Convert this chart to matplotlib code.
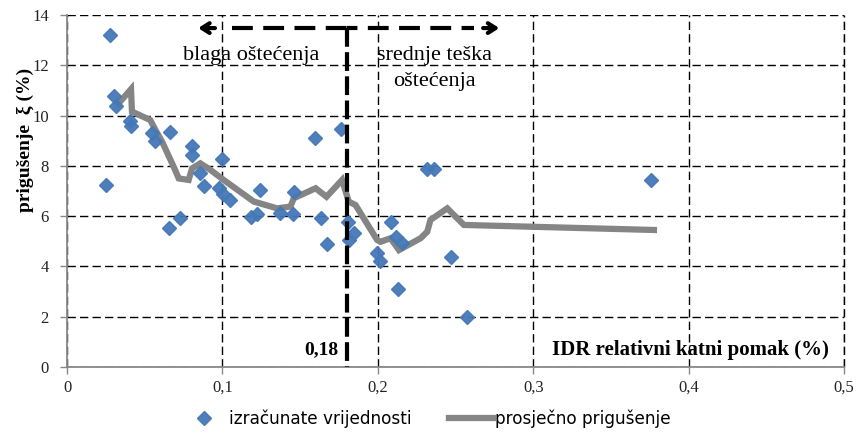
import numpy as np
import matplotlib
matplotlib.use('Agg')
import matplotlib.pyplot as plt

# izracunate vrijednosti (IDR %, prigusenje %)
idr_points = [0.0253, 0.0279, 0.0305, 0.0314, 0.0408, 0.0412, 0.0547, 0.0569,
              0.0654, 0.0660, 0.0725, 0.0805, 0.0805, 0.0858, 0.0880, 0.0976,
              0.0998, 0.1007, 0.1047, 0.1185, 0.1223, 0.1245, 0.1369, 0.1455,
              0.1459, 0.1599, 0.1635, 0.1670, 0.1760, 0.1807, 0.1814, 0.1846,
              0.1996, 0.2013, 0.2086, 0.2114, 0.2128, 0.2157, 0.2316, 0.2359,
              0.2468, 0.2571, 0.3760]
damping_points = [7.22, 13.2, 10.79, 10.4, 9.8, 9.6, 9.3, 9.0,
                  5.52, 9.34, 5.91, 8.8, 8.42, 7.7, 7.2, 7.1,
                  8.28, 6.9, 6.65, 5.95, 6.08, 7.05, 6.11, 6.09,
                  6.95, 9.1, 5.91, 4.89, 9.45, 5.75, 5.05, 5.32,
                  4.52, 4.23, 5.78, 5.18, 3.1, 4.95, 7.88, 7.88,
                  4.39, 1.98, 7.42]

# prosjecno prigusenje
idr_avg = [0.0333, 0.0412, 0.0418, 0.0536, 0.0569, 0.0612, 0.0686, 0.0719,
           0.0783, 0.0805, 0.0858, 0.0923, 0.1008, 0.1202, 0.1352, 0.1438,
           0.1459, 0.1600, 0.1670, 0.1770, 0.1813, 0.1857, 0.1996, 0.2017,
           0.2082, 0.2136, 0.2275, 0.2318, 0.2339, 0.2447, 0.2554, 0.3777]
damping_avg = [10.49, 11.05, 10.16, 9.82, 9.43, 8.96, 7.97, 7.50,
               7.44, 7.90, 8.10, 7.84, 7.44, 6.58, 6.31, 6.38,
               6.71, 7.11, 6.77, 7.44, 6.58, 6.44, 5.05, 4.98,
               5.12, 4.65, 5.12, 5.38, 5.85, 6.31, 5.65, 5.45]

threshold = 0.18
x_ticks = [0, 0.1, 0.2, 0.3, 0.4, 0.5]
x_tick_labels = ['0', '0,1', '0,2', '0,3', '0,4', '0,5']
y_ticks = [0, 2, 4, 6, 8, 10, 12, 14]

serif = 'Liberation Serif'
blue = '#4578B8'
gray = '#858585'

fig = plt.figure(figsize=(8.58, 4.38), dpi=100)
ax = fig.add_axes([67 / 858, 1 - 367 / 438, 777 / 858, 352 / 438])

ax.plot(idr_avg, damping_avg, color=gray, lw=4.5, solid_joinstyle='miter',
        zorder=3, label='prosječno prigušenje')
ax.plot(idr_points, damping_points, linestyle='none', marker='D', ms=7.5,
        color=blue, mec=blue, alpha=0.95, zorder=4, label='izračunate vrijednosti')

ax.set_xlim(0, 0.5)
ax.set_ylim(0, 14)
ax.set_xticks(x_ticks)
ax.set_xticklabels(x_tick_labels)
ax.set_yticks(y_ticks)
for lab in ax.get_xticklabels() + ax.get_yticklabels():
    lab.set_fontfamily(serif)
    lab.set_fontsize(12)
    lab.set_color('#222222')
ax.tick_params(axis='x', length=5, width=1, color='#888888', pad=4)
ax.tick_params(axis='y', length=5, width=1, color='#888888', pad=8)

ax.grid(True, color='black', lw=1.0, linestyle=(0, (6, 3)), zorder=1)
ax.axvline(0.5, color='black', lw=1.0, linestyle=(0, (6, 3)), zorder=1, clip_on=False)
for side in ['top', 'right']:
    ax.spines[side].set_visible(False)
for side in ['left', 'bottom']:
    ax.spines[side].set_color('#888888')
    ax.spines[side].set_linewidth(1.3)

# granica 0,18 i strelice
arrow_y = 13.48
ax.plot([threshold, threshold], [arrow_y, 0], color='black', lw=3,
        linestyle=(0, (4.5, 1.3)), zorder=5, solid_capstyle='butt')
ax.plot([0.106, threshold], [arrow_y, arrow_y], color='black', lw=3,
        linestyle=(0, (5, 2.5)), zorder=5)
ax.plot([threshold, 0.262], [arrow_y, arrow_y], color='black', lw=3,
        linestyle=(2.5, (5, 2.5)), zorder=5)
ax.annotate('', xy=(0.0826, arrow_y), xytext=(0.097, arrow_y),
            arrowprops=dict(arrowstyle='->,head_length=0.55,head_width=0.35',
                            lw=3, color='black'), zorder=5)
ax.annotate('', xy=(0.28, arrow_y), xytext=(0.266, arrow_y),
            arrowprops=dict(arrowstyle='->,head_length=0.55,head_width=0.35',
                            lw=3, color='black'), zorder=5)

ax.text(0.1188, 12.4, 'blaga oštećenja', family=serif, fontsize=16,
        ha='center', va='center', zorder=6)
ax.text(0.2366, 12.4, 'srednje teška', family=serif, fontsize=16,
        ha='center', va='center', zorder=6)
ax.text(0.2366, 11.35, 'oštećenja', family=serif, fontsize=16,
        ha='center', va='center', zorder=6)
ax.text(0.1745, 0.7, '0,18', family=serif, fontsize=14, fontweight='bold',
        ha='right', va='center', zorder=6)
ax.text(0.49, 0.67, 'IDR relativni katni pomak (%)', family=serif, fontsize=15,
        fontweight='bold', ha='right', va='center', zorder=6)

fig.text(25 / 858, 1 - 140 / 438, 'prigušenje  ξ (%)', family=serif, fontsize=14,
         fontweight='bold', rotation=90, ha='center', va='center')

handles, labels = ax.get_legend_handles_labels()
fig.legend(handles[::-1], labels[::-1], loc='center', ncol=2,
           bbox_to_anchor=(0.497, 0.043), frameon=False,
           prop={'family': 'DejaVu Sans', 'size': 12.2},
           handlelength=2.6, columnspacing=2.2, handletextpad=0.15)

fig.savefig('out.png', dpi=100)
